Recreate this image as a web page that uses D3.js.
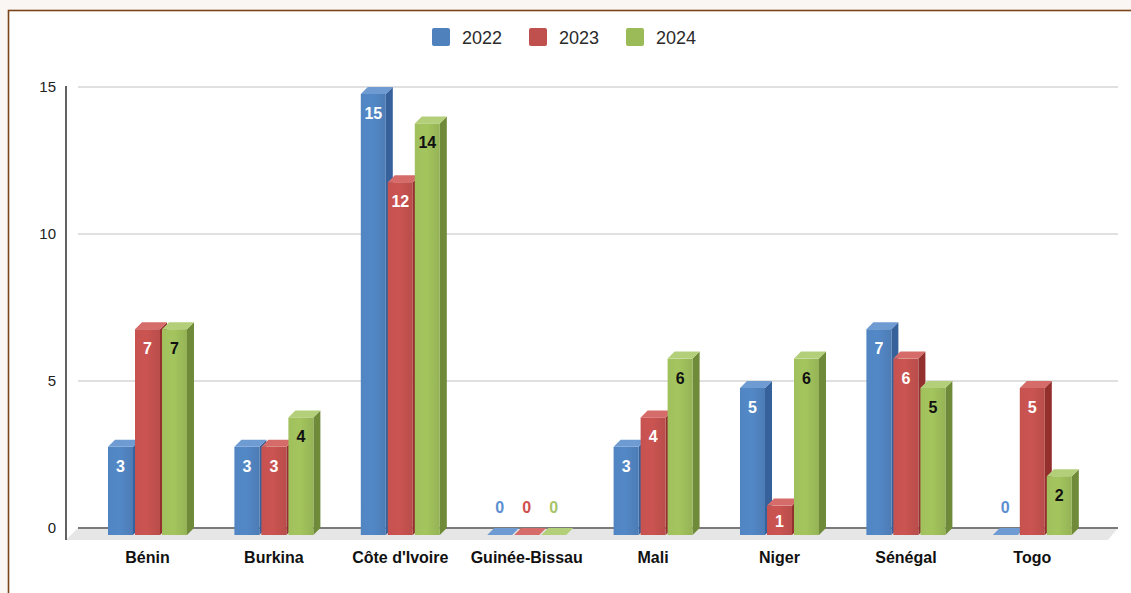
<!DOCTYPE html>
<html>
<head>
<meta charset="utf-8">
<script src="https://cdn.jsdelivr.net/npm/d3@7"></script>
<style>
  html, body { margin: 0; padding: 0; background: #faf6f4; }
  svg { display: block; }
</style>
</head>
<body>
<svg id="chart" width="1131" height="593"></svg>
<script>
// Countries and yearly counts
const categories = ["Bénin", "Burkina", "Côte d'Ivoire", "Guinée-Bissau", "Mali", "Niger", "Sénégal", "Togo"];
const years = ["2022", "2023", "2024"];
const values2022 = [3, 3, 15, 0, 3, 5, 7, 0];
const values2023 = [7, 3, 12, 0, 4, 1, 6, 5];
const values2024 = [7, 4, 14, 0, 6, 6, 5, 2];
const yTicks = [0, 5, 10, 15];

const seriesValues = [values2022, values2023, values2024];

// Face colours per series: front, side, top, label, zero-label
const palette = [
  { front: "#4f81bd", side: "#36619a", top: "#6f9bd3", label: "#ffffff", zero: "#5b8fd0" },
  { front: "#c0504d", side: "#932f2d", top: "#d56c69", label: "#ffffff", zero: "#d0504d" },
  { front: "#9bbb59", side: "#6f8a38", top: "#b4cf7a", label: "#111111", zero: "#a7c46a" }
];

const svg = d3.select("#chart");

// Panel with brown frame
svg.append("rect")
  .attr("x", 8.5).attr("y", 10.5)
  .attr("width", 1140).attr("height", 600)
  .attr("fill", "#ffffff")
  .attr("stroke", "#7a4418").attr("stroke-width", 1.6);

const depth = 7;          // 3-D offset of the bar back faces
const floorDepth = 12;
const plotLeft = 78, plotRight = 1118;

const y = d3.scaleLinear().domain([0, 15]).range([528, 87]);

const x = d3.scaleBand().domain(categories).range([84.3, 1095.5]).paddingInner(0).paddingOuter(0);
const xs = d3.scaleBand().domain(years).range([0, 79]).paddingInner(2 / 27).paddingOuter(0);

// Defs: gentle shading on the front faces
const defs = svg.append("defs");
palette.forEach((p, i) => {
  const g = defs.append("linearGradient").attr("id", "front" + i)
    .attr("x1", "0").attr("x2", "1").attr("y1", "0").attr("y2", "0");
  g.append("stop").attr("offset", "0").attr("stop-color", d3.color(p.front).brighter(0.08));
  g.append("stop").attr("offset", "0.45").attr("stop-color", d3.color(p.front).brighter(0.15));
  g.append("stop").attr("offset", "1").attr("stop-color", d3.color(p.front).darker(0.12));
});

// Floor of the plot
svg.append("path")
  .attr("d", `M${plotLeft},${y(0)} L${plotRight},${y(0)} L${plotRight - floorDepth + 2},${y(0) + floorDepth} L${plotLeft - floorDepth},${y(0) + floorDepth} Z`)
  .attr("fill", "#e6e6e6");

// Gridlines on the back wall
svg.append("g").selectAll("line")
  .data(yTicks.filter(t => t > 0))
  .join("line")
  .attr("x1", plotLeft).attr("x2", plotRight)
  .attr("y1", d => y(d)).attr("y2", d => y(d))
  .attr("stroke", "#d6d6d6").attr("stroke-width", 1.6);

// Zero line
svg.append("line")
  .attr("x1", plotLeft).attr("x2", plotRight)
  .attr("y1", y(0)).attr("y2", y(0))
  .attr("stroke", "#7a7a7a").attr("stroke-width", 2);

// Vertical axis
svg.append("line")
  .attr("x1", 66).attr("x2", 66)
  .attr("y1", y(15) - 1).attr("y2", y(0) + floorDepth)
  .attr("stroke", "#3a3a3a").attr("stroke-width", 1.6);

// Y tick labels
svg.append("g").selectAll("text")
  .data(yTicks)
  .join("text")
  .attr("x", 56).attr("y", d => y(d) + 5)
  .attr("text-anchor", "end")
  .attr("font-family", "Liberation Sans, Arial, sans-serif")
  .attr("font-size", 15)
  .attr("fill", "#222")
  .text(d => d);

// Bars
const barData = [];
categories.forEach((c, ci) => {
  years.forEach((yr, si) => {
    barData.push({ cat: c, si, value: seriesValues[si][ci] });
  });
});

const bars = svg.append("g");
barData.forEach(d => {
  const p = palette[d.si];
  const groupLeft = x(d.cat) + x.bandwidth() / 2 - 39.5;
  const x0 = groupLeft + xs(years[d.si]);
  const w = xs.bandwidth();
  const yb = y(d.value);            // back top edge
  const yf = yb + depth;            // front top edge
  const base = y(0) + depth;        // front bottom edge
  const g = bars.append("g");
  if (d.value > 0) {
    // side face
    g.append("path")
      .attr("d", `M${x0 + w},${yf} L${x0 + w + depth},${yb} L${x0 + w + depth},${y(0)} L${x0 + w},${base} Z`)
      .attr("fill", p.side);
    // front face
    g.append("rect")
      .attr("x", x0).attr("y", yf).attr("width", w).attr("height", base - yf)
      .attr("fill", `url(#front${d.si})`);
  }
  // top face
  g.append("path")
    .attr("d", `M${x0},${yf} L${x0 + w},${yf} L${x0 + w + depth},${yb} L${x0 + depth},${yb} Z`)
    .attr("fill", p.top);

  // value label
  const cx = x0 + w / 2;
  if (d.value > 0) {
    g.append("text")
      .attr("x", cx).attr("y", Math.min(yb + 32, 527))
      .attr("text-anchor", "middle")
      .attr("font-family", "Liberation Sans, Arial, sans-serif")
      .attr("font-weight", "bold").attr("font-size", 16)
      .attr("fill", p.label)
      .text(d.value);
  } else {
    g.append("text")
      .attr("x", cx).attr("y", 513)
      .attr("text-anchor", "middle")
      .attr("font-family", "Liberation Sans, Arial, sans-serif")
      .attr("font-weight", "bold").attr("font-size", 16)
      .attr("fill", p.zero)
      .text(d.value);
  }
});

// Category labels
svg.append("g").selectAll("text")
  .data(categories)
  .join("text")
  .attr("x", d => x(d) + x.bandwidth() / 2)
  .attr("y", 563)
  .attr("text-anchor", "middle")
  .attr("font-family", "Liberation Sans, Arial, sans-serif")
  .attr("font-weight", "bold").attr("font-size", 16)
  .attr("fill", "#111")
  .text(d => d);

// Legend
const legend = svg.append("g");
years.forEach((yr, i) => {
  const lx = 432 + i * 97;
  legend.append("rect")
    .attr("x", lx).attr("y", 28).attr("width", 18).attr("height", 18)
    .attr("rx", 2)
    .attr("fill", palette[i].front);
  legend.append("text")
    .attr("x", lx + 30).attr("y", 43.5)
    .attr("font-family", "Liberation Sans, Arial, sans-serif")
    .attr("font-size", 18)
    .attr("fill", "#2a2a2a")
    .text(yr);
});
</script>
</body>
</html>
